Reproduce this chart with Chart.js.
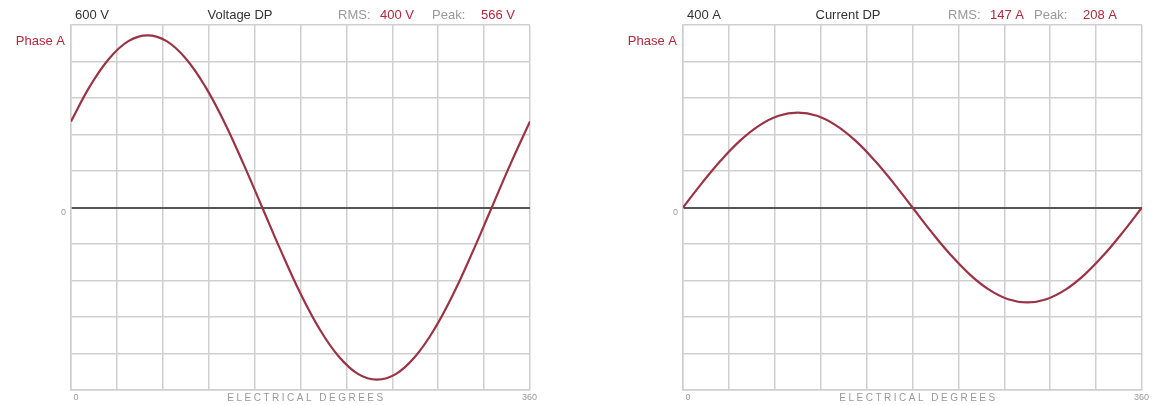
<!DOCTYPE html>
<html>
<head>
<meta charset="utf-8">
<script src="https://cdn.jsdelivr.net/npm/chart.js@4"></script>
<style>
  body { margin: 0; background: #fff; }
  .box { position: absolute; top: 0; height: 405px; }
  #voltBox { left: 0; width: 576px; }
  #currBox { left: 576px; width: 577px; }
</style>
</head>
<body>
<div class="box" id="voltBox"><canvas id="voltChart"></canvas></div>
<div class="box" id="currBox"><canvas id="currChart"></canvas></div>
<script>
// electrical degrees, every 15
const degrees = [0, 15, 30, 45, 60, 75, 90, 105, 120, 135, 150, 165, 180,
  195, 210, 225, 240, 255, 270, 285, 300, 315, 330, 345, 360];
// phase A voltage (V)
const voltageA = [283, 400, 490, 547, 566, 547, 490, 400, 283, 146, 0, -146, -283,
  -400, -490, -547, -566, -547, -490, -400, -283, -146, 0, 146, 283];
// phase A current (A)
const currentA = [0, 54, 104, 147, 180, 201, 208, 201, 180, 147, 104, 54, 0,
  -54, -104, -147, -180, -201, -208, -201, -180, -147, -104, -54, 0];

const voltScale = 600;
const currScale = 400;
const voltHeader = ['600 V', 'Voltage DP', '400 V', '566 V'];
const currHeader = ['400 A', 'Current DP', '147 A', '208 A'];

const FONT = '"Liberation Sans", Arial, sans-serif';
const RED = '#b0283c';

// header, phase label and axis texts
const labelsPlugin = {
  id: 'dpLabels',
  afterDraw(chart, args, opts) {
    const ctx = chart.ctx;
    const xs = chart.scales.x, ys = chart.scales.y;
    const a = chart.chartArea;
    const h = opts.header;
    ctx.save();
    ctx.textBaseline = 'middle';
    ctx.font = '13px ' + FONT;
    ctx.fillStyle = '#333';
    ctx.textAlign = 'left';
    ctx.fillText(h[0], a.left + 4, 15);
    ctx.textAlign = 'center';
    ctx.fillText(h[1], opts.titleX, 15);
    ctx.textAlign = 'left';
    ctx.fillStyle = '#999';
    ctx.fillText('RMS:', opts.rmsX, 15);
    ctx.fillText('Peak:', opts.peakX, 15);
    ctx.fillStyle = RED;
    ctx.fillText(h[2], opts.rmsX + 42, 15);
    ctx.fillText(h[3], opts.peakX + 49, 15);

    ctx.textAlign = 'right';
    ctx.fillText('Phase A', a.left - 6, 41);

    ctx.font = '9px ' + FONT;
    ctx.fillStyle = '#999';
    ctx.fillText('0', a.left - 5, ys.getPixelForValue(0) + 5);
    ctx.textAlign = 'center';
    ctx.fillText('0', xs.getPixelForValue(0) + 5, 398);
    ctx.textAlign = 'right';
    ctx.fillText('360', xs.getPixelForValue(360) + 7, 398);
    ctx.textAlign = 'center';
    ctx.font = '10px ' + FONT;
    ctx.letterSpacing = '2.5px';
    ctx.fillText('ELECTRICAL DEGREES', (a.left + a.right) / 2 + 6, 398);
    ctx.restore();
  }
};

function makeChart(id, values, range, pad, labelOpts) {
  return new Chart(document.getElementById(id), {
    type: 'line',
    data: {
      labels: degrees,
      datasets: [{
        label: 'Phase A',
        data: values,
        borderColor: '#9a3346',
        borderWidth: 2.2,
        pointRadius: 0,
        tension: 0.4,
        fill: false
      }]
    },
    options: {
      responsive: true,
      maintainAspectRatio: false,
      animation: false,
      layout: { padding: pad },
      plugins: {
        legend: { display: false },
        tooltip: { enabled: false },
        dpLabels: labelOpts
      },
      scales: {
        x: {
          type: 'linear',
          min: 0,
          max: 360,
          ticks: { display: false, stepSize: 36 },
          grid: { color: '#cfcfcf', lineWidth: 1.5, drawTicks: false },
          border: { color: '#cfcfcf', width: 1.5 }
        },
        y: {
          min: -range,
          max: range,
          ticks: { display: false, stepSize: range / 5 },
          grid: {
            drawTicks: false,
            color: c => c.tick.value === 0 ? '#555' : '#cfcfcf',
            lineWidth: c => c.tick.value === 0 ? 2 : 1.5
          },
          border: { color: '#cfcfcf', width: 1.5 }
        }
      }
    },
    plugins: [labelsPlugin]
  });
}

makeChart('voltChart', voltageA, voltScale,
  { left: 71, right: 46, top: 25, bottom: 15 },
  { header: voltHeader, titleX: 240, rmsX: 338, peakX: 432 });
makeChart('currChart', currentA, currScale,
  { left: 107, right: 11, top: 25, bottom: 15 },
  { header: currHeader, titleX: 272, rmsX: 372, peakX: 458 });
</script>
</body>
</html>
